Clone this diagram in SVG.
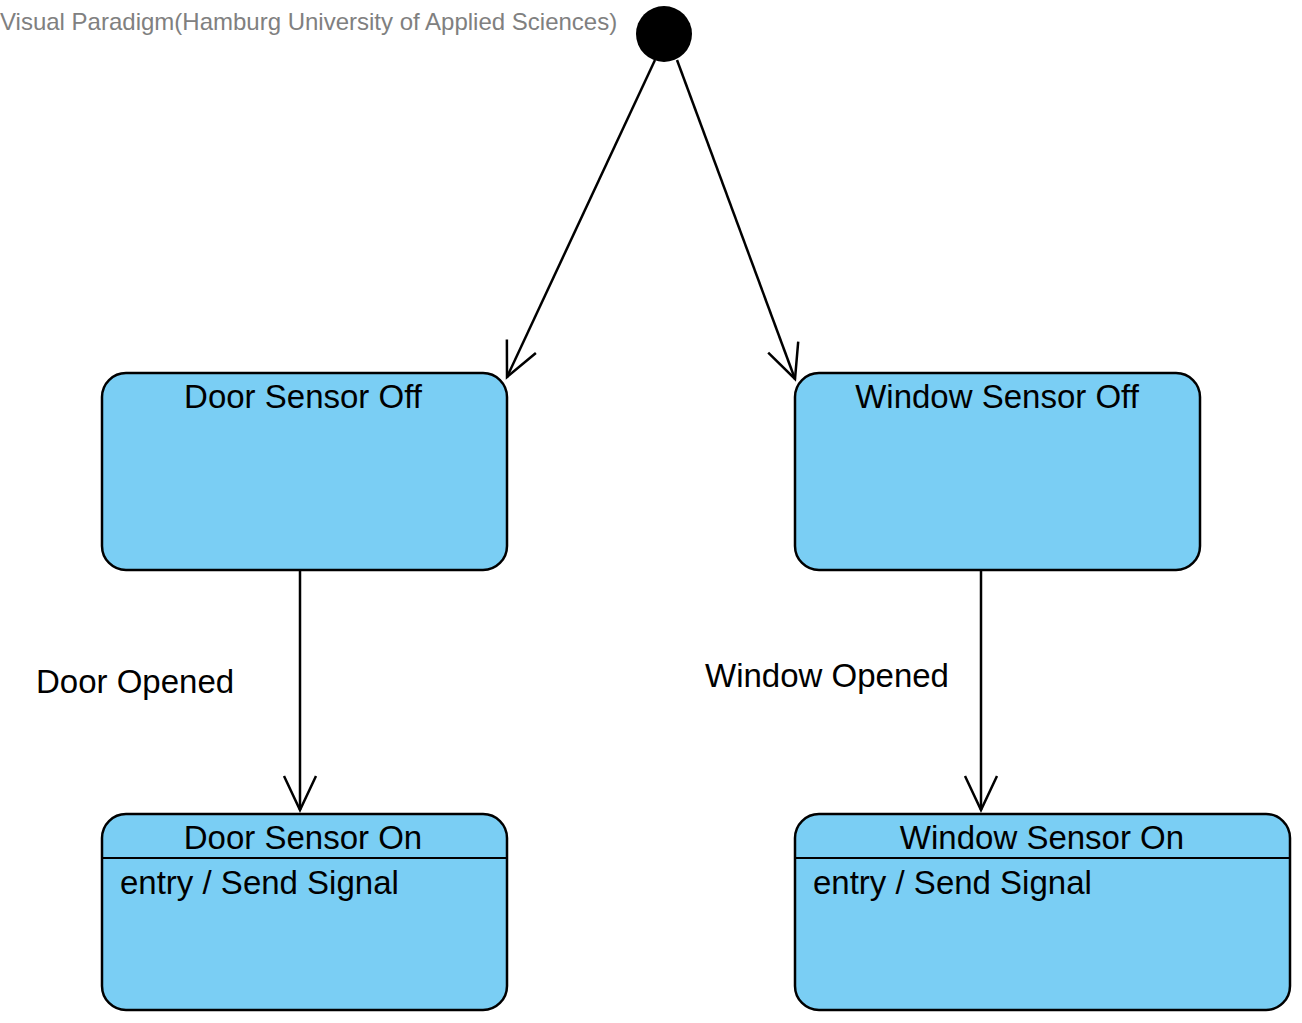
<svg xmlns="http://www.w3.org/2000/svg" width="1302" height="1023" viewBox="0 0 1302 1023">
<style>
.state{fill:#7acef4;stroke:#000;stroke-width:2.5}
.t{font-family:"Liberation Sans",Arial,sans-serif;font-size:33px;fill:#000}
.c{text-anchor:middle}
.edge{stroke:#000;stroke-width:2.5;fill:none}
.title{font-family:"Liberation Sans",Arial,sans-serif;font-size:24px;fill:#808080}
</style>
<defs>
<marker id="open" markerUnits="userSpaceOnUse" markerWidth="80" markerHeight="80" viewBox="-40 -40 80 80" refX="0" refY="0" orient="auto" overflow="visible">
<path d="M-34,-16 L0,0 L-34,16" fill="none" stroke="#000" stroke-width="2.5"/>
</marker>
</defs>
<rect width="1302" height="1023" fill="#fff"/>
<text class="title" x="0" y="30">Visual Paradigm(Hamburg University of Applied Sciences)</text>
<g id="initial">
<circle cx="664" cy="34" r="28" fill="#000"/>
</g>
<g id="connectors">
<path class="edge" d="M655,60 L507,377" marker-end="url(#open)"/>
<path class="edge" d="M677,60 L795,379" marker-end="url(#open)"/>
<path class="edge" d="M300,571 L300,810" marker-end="url(#open)"/>
<path class="edge" d="M981,571 L981,810" marker-end="url(#open)"/>
<text class="t" x="36" y="693">Door Opened</text>
<text class="t" x="705" y="687">Window Opened</text>
</g>
<g id="door-off">
<rect class="state" x="102" y="373" width="405" height="197" rx="24"/>
<text class="t c" x="303" y="408">Door Sensor Off</text>
</g>
<g id="window-off">
<rect class="state" x="795" y="373" width="405" height="197" rx="24"/>
<text class="t c" x="997" y="408">Window Sensor Off</text>
</g>
<g id="door-on">
<rect class="state" x="102" y="814" width="405" height="196" rx="24"/>
<line x1="102" y1="858" x2="507" y2="858" stroke="#000" stroke-width="2"/>
<text class="t c" x="303" y="849">Door Sensor On</text>
<text class="t" x="120" y="894">entry / Send Signal</text>
</g>
<g id="window-on">
<rect class="state" x="795" y="814" width="495" height="196" rx="24"/>
<line x1="795" y1="858" x2="1290" y2="858" stroke="#000" stroke-width="2"/>
<text class="t c" x="1042" y="849">Window Sensor On</text>
<text class="t" x="813" y="894">entry / Send Signal</text>
</g>
</svg>
